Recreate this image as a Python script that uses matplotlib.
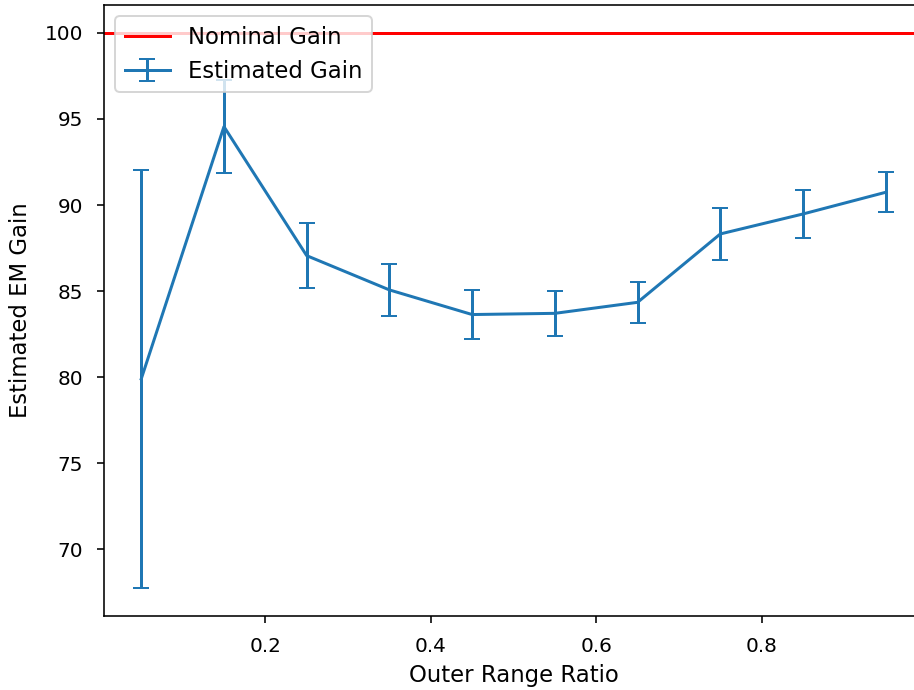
import matplotlib
matplotlib.use("Agg")
import matplotlib.pyplot as plt

# --- Data ---
outer_ratio = [0.05, 0.15, 0.25, 0.35, 0.45, 0.55, 0.65, 0.75, 0.85, 0.95]
est_gain = [79.9, 94.55, 87.06, 85.07, 83.64, 83.71, 84.35, 88.32, 89.48, 90.74]
gain_err = [12.15, 2.7, 1.9, 1.5, 1.4, 1.3, 1.2, 1.5, 1.4, 1.15]
NOMINAL_GAIN = 100

LABEL_SIZE = 11.4

# --- Plot ---
fig = plt.figure(figsize=(914 / 144, 690 / 144), dpi=144)
ax = fig.add_axes([104 / 914, 74 / 690, 819 / 914, 611 / 690])

ax.axhline(NOMINAL_GAIN, color='r', label='Nominal Gain')
ax.errorbar(outer_ratio, est_gain, yerr=gain_err, capsize=4, label='Estimated Gain')

ax.tick_params(axis='both', pad=7)
ax.set_xlabel("Outer Range Ratio", fontsize=LABEL_SIZE)
ax.set_ylabel("Estimated EM Gain", fontsize=LABEL_SIZE, labelpad=6)
ax.legend(loc='upper left', fontsize=LABEL_SIZE)

fig.savefig("out.png", dpi=144)
